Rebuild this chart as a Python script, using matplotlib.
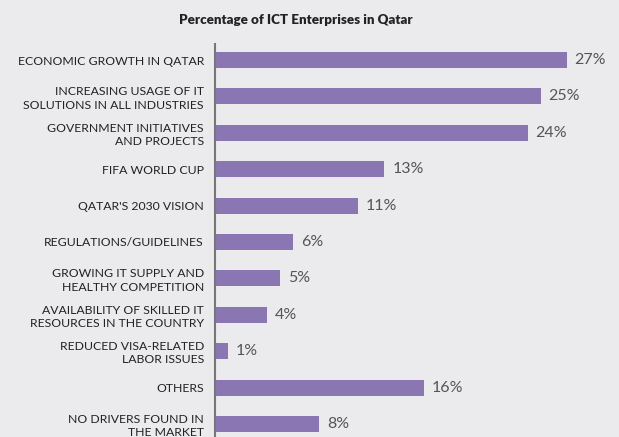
import matplotlib
matplotlib.use("Agg")
import matplotlib.pyplot as plt

categories = [
    "ECONOMIC GROWTH IN QATAR",
    "INCREASING USAGE OF IT\nSOLUTIONS IN ALL INDUSTRIES",
    "GOVERNMENT INITIATIVES\nAND PROJECTS",
    "FIFA WORLD CUP",
    "QATAR'S 2030 VISION",
    "REGULATIONS/GUIDELINES",
    "GROWING IT SUPPLY AND\nHEALTHY COMPETITION",
    "AVAILABILITY OF SKILLED IT\nRESOURCES IN THE COUNTRY",
    "REDUCED VISA-RELATED\nLABOR ISSUES",
    "OTHERS",
    "NO DRIVERS FOUND IN\nTHE MARKET",
]
values = [27, 25, 24, 13, 11, 6, 5, 4, 1, 16, 8]

BG = "#ebebee"
BAR = "#8a76b2"

fig = plt.figure(figsize=(6.19, 4.37), dpi=100, facecolor=BG)
ax = fig.add_axes([215 / 619, 0, 404 / 619, (437 - 44) / 437])
ax.set_facecolor(BG)

pos = list(range(len(values)))
ax.barh(pos, values, height=0.44, color=BAR)
ax.set_ylim(10.36, -0.44)
ax.set_xlim(0, 31)

for y, v in zip(pos, values):
    ax.text(v + 0.6, y, f"{v}%", va="center", ha="left",
            fontsize=11.5, color="#555555", family="Lato")

ax.set_yticks(pos)
ax.set_yticklabels(categories, fontsize=8.8, family="Lato", color="#222222",
                   linespacing=1.25)
ax.tick_params(axis="y", length=0, pad=8)
ax.set_xticks([])
for s in ["top", "right", "bottom"]:
    ax.spines[s].set_visible(False)
ax.spines["left"].set_color("#777777")
ax.spines["left"].set_linewidth(1.5)

fig.text(296 / 619, 1 - 20 / 437, "Percentage of ICT Enterprises in Qatar",
         ha="center", va="center", fontsize=9.6, fontweight="heavy",
         family="Lato", color="#222222")

fig.savefig("out.png", dpi=100, facecolor=BG)
